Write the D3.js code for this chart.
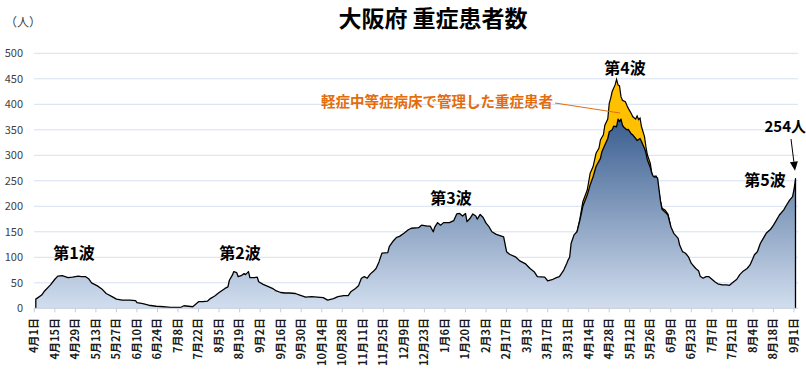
<!DOCTYPE html>
<html>
<head>
<meta charset="utf-8">
<script src="https://cdn.jsdelivr.net/npm/d3@7"></script>
<style>
	body { margin: 0; background: #fff; }
	text { font-family: "Noto Sans CJK JP", "Noto Sans", sans-serif; }
</style>
</head>
<body>
<svg id="chart" width="806" height="370"></svg>
<script>
// data: day offset from 2020-04-01
const startDate = new Date(2020, 3, 1);
const lastDay = 518; // 2021-09-01
const yTicks = [0, 50, 100, 150, 200, 250, 300, 350, 400, 450, 500];

// severe patients (ICU beds)
const severe = [
	[0, 18], [1, 20], [4, 26], [6, 34], [10, 46], [13, 57], [15, 63], [18, 64], [20, 62], [22, 60],
	[25, 61], [27, 62], [29, 63], [31, 62], [34, 62], [36, 58], [38, 50], [42, 44], [45, 38], [48, 29],
	[52, 23], [55, 18], [59, 16], [64, 16], [68, 15], [69, 11], [73, 9], [77, 6], [82, 4], [87, 3],
	[92, 2], [99, 2], [101, 5], [104, 4], [107, 3], [111, 13], [114, 13], [117, 14], [119, 19], [122, 24],
	[125, 31], [129, 39], [131, 42], [132, 55], [134, 65], [135, 72], [137, 70], [138, 62], [140, 64], [142, 68],
	[143, 66], [145, 72], [146, 60], [149, 60], [151, 61], [152, 52], [155, 47], [159, 42], [162, 38], [164, 34],
	[167, 31], [170, 30], [173, 30], [177, 29], [180, 26], [184, 22], [188, 23], [192, 22], [196, 21], [199, 16],
	[203, 19], [206, 23], [210, 25], [213, 25], [215, 33], [218, 39], [220, 44], [222, 59], [224, 62], [226, 59],
	[228, 67], [230, 72], [232, 78], [234, 91], [236, 108], [240, 109], [241, 121], [244, 133], [246, 139], [248, 141],
	[251, 147], [254, 154], [256, 157], [261, 158], [263, 163], [267, 161], [269, 161], [271, 150], [272, 159], [274, 168],
	[276, 163], [278, 168], [282, 168], [285, 172], [287, 185], [289, 186], [291, 181], [293, 186], [294, 170], [296, 176],
	[298, 185], [300, 181], [301, 175], [303, 184], [305, 178], [307, 167], [309, 160], [311, 150], [314, 145], [319, 140],
	[321, 111], [323, 106], [327, 101], [330, 93], [334, 87], [337, 78], [340, 71], [342, 62], [347, 61], [349, 54],
	[352, 56], [355, 60], [357, 62], [360, 75], [362, 88], [363, 95], [364, 100], [365, 127], [367, 144], [369, 150],
	[371, 173], [373, 200], [376, 222], [378, 242], [380, 258], [382, 278], [385, 294], [386, 307], [388, 320], [390, 333],
	[391, 346], [393, 350], [394, 357], [396, 356], [397, 371], [398, 366], [399, 371], [400, 359], [401, 355], [403, 350],
	[404, 351], [406, 342], [407, 340], [409, 333], [410, 329], [412, 333], [413, 327], [415, 314], [416, 305], [417, 291],
	[419, 276], [420, 265], [421, 259], [422, 257], [423, 258], [424, 255], [425, 232], [426, 209], [427, 194], [429, 189],
	[431, 183], [433, 160], [435, 147], [438, 137], [439, 124], [441, 111], [443, 108], [445, 101], [447, 88], [450, 78],
	[452, 73], [453, 63], [455, 59], [457, 62], [459, 62], [461, 57], [463, 52], [465, 48], [468, 46], [471, 46],
	[473, 45], [475, 50], [478, 57], [480, 66], [482, 72], [485, 78], [487, 85], [489, 98], [490, 105], [492, 111],
	[494, 127], [496, 137], [498, 147], [501, 155], [503, 163], [505, 173], [507, 183], [510, 193], [512, 203], [514, 212],
	[516, 219], [517, 233], [518, 254]
];

// severe incl. those managed in mild/moderate beds (only differs in wave 4)
const severeTotal = [
	[369, 150], [371, 175], [373, 209], [376, 232], [378, 265], [380, 278], [382, 304], [384, 314], [385, 330], [387, 340],
	[388, 359], [390, 371], [391, 402], [392, 412], [393, 425], [395, 438], [396, 449], [397, 438], [398, 436], [399, 415],
	[400, 408], [402, 405], [403, 398], [404, 392], [406, 382], [407, 376], [409, 371], [410, 377], [411, 370], [412, 373],
	[413, 356], [415, 337], [416, 317], [417, 301], [419, 284], [420, 265], [421, 255], [422, 259], [423, 259], [424, 242],
	[426, 209], [427, 196], [429, 193], [431, 185], [433, 160]
];

const waveNames = ["第1波", "第2波", "第3波", "第4波", "第5波"];
const lastValue = 254;

const svg = d3.select("#chart");

const x = d3.scaleLinear().domain([0, lastDay]).range([35.8, 795.5]);
const y = d3.scaleLinear().domain([0, 500]).range([308.3, 53.3]);

//gridlines
svg.append("g")
	.selectAll("line")
	.data(yTicks.filter((d) => d > 0))
	.enter()
	.append("line")
	.attr("x1", 34)
	.attr("x2", 798)
	.attr("y1", (d) => y(d))
	.attr("y2", (d) => y(d))
	.attr("stroke", "#d5e0ef")
	.attr("stroke-width", 1);

//y labels
svg.append("g")
	.selectAll("text")
	.data(yTicks)
	.enter()
	.append("text")
	.attr("x", 23)
	.attr("y", (d) => y(d))
	.attr("dy", "0.35em")
	.attr("text-anchor", "end")
	.attr("font-size", 11)
	.attr("fill", "#404040")
	.text((d) => d);

svg.append("text")
	.attr("x", 5)
	.attr("y", 27)
	.attr("font-size", 12)
	.attr("fill", "#404040")
	.text("（人）");

//gradient for the blue area
const grad = svg.append("defs")
	.append("linearGradient")
	.attr("id", "blueGrad")
	.attr("gradientUnits", "userSpaceOnUse")
	.attr("x1", 0).attr("x2", 0)
	.attr("y1", y(371)).attr("y2", y(0));
grad.append("stop").attr("offset", "0%").attr("stop-color", "#3a5e8f");
grad.append("stop").attr("offset", "100%").attr("stop-color", "#d2deef");

const area = d3.area()
	.x((d) => x(d[0]))
	.y0(y(0))
	.y1((d) => y(d[1]));

const outline = (pts, closeEnds) => {
	const p = closeEnds ? [[pts[0][0], 0], ...pts, [pts[pts.length - 1][0], 0]] : pts;
	return d3.line().x((d) => x(d[0])).y((d) => y(d[1]))(p);
};

//orange (total) underneath
svg.append("path")
	.attr("d", area(severeTotal))
	.attr("fill", "#ffc000");
svg.append("path")
	.attr("d", outline(severeTotal, false))
	.attr("fill", "none")
	.attr("stroke", "#000")
	.attr("stroke-width", 1.2);

//blue area on top
svg.append("path")
	.attr("d", area(severe))
	.attr("fill", "url(#blueGrad)");
svg.append("path")
	.attr("d", outline(severe, true))
	.attr("fill", "none")
	.attr("stroke", "#000")
	.attr("stroke-width", 1.3)
	.attr("stroke-linejoin", "round");

//x axis
svg.append("line")
	.attr("x1", 34).attr("x2", 798)
	.attr("y1", y(0)).attr("y2", y(0))
	.attr("stroke", "#c4cedb");

const tickDays = d3.range(0, lastDay + 1, 14);
const fmt = (d) => {
	const dt = d3.timeDay.offset(startDate, d);
	return (dt.getMonth() + 1) + "月" + dt.getDate() + "日";
};

const xt = svg.append("g")
	.selectAll("g")
	.data(tickDays)
	.enter()
	.append("g")
	.attr("transform", (d) => "translate(" + (x(d) - 1.5) + ",0)");
xt.append("line")
	.attr("y1", y(0)).attr("y2", y(0) + 4)
	.attr("stroke", "#c4cedb");
xt.append("text")
	.attr("transform", "translate(0,318) rotate(-90)")
	.attr("dy", "0.35em")
	.attr("text-anchor", "end")
	.attr("font-size", 11)
	.attr("font-weight", "bold")
	.attr("fill", "#1a1a1a")
	.text(fmt);

//title
svg.append("text")
	.attr("x", 433)
	.attr("y", 27)
	.attr("text-anchor", "middle")
	.attr("font-size", 23)
	.attr("font-weight", "bold")
	.attr("fill", "#000")
	.text("大阪府 重症患者数");

//wave labels
const wavePos = [[74, 259], [240, 259], [451, 204], [625, 74], [765, 186]];
svg.append("g")
	.selectAll("text")
	.data(waveNames)
	.enter()
	.append("text")
	.attr("x", (d, i) => wavePos[i][0])
	.attr("y", (d, i) => wavePos[i][1])
	.attr("text-anchor", "middle")
	.attr("font-size", 16)
	.attr("font-weight", "bold")
	.attr("fill", "#000")
	.text((d) => d);

//orange callout
svg.append("line")
	.attr("x1", 555).attr("y1", 103)
	.attr("x2", 620).attr("y2", 113)
	.attr("stroke", "#e46c0a")
	.attr("stroke-width", 1);
svg.append("text")
	.attr("x", 553)
	.attr("y", 107)
	.attr("text-anchor", "end")
	.attr("font-size", 14.5)
	.attr("font-weight", "bold")
	.attr("fill", "#e46c0a")
	.text("軽症中等症病床で管理した重症患者");

//last value arrow
svg.append("text")
	.attr("x", 806)
	.attr("y", 132)
	.attr("text-anchor", "end")
	.attr("font-size", 15)
	.attr("font-weight", "bold")
	.attr("fill", "#000")
	.text(lastValue + "人");

const ax0 = 791, ay0 = 139, ax1 = x(lastDay) - 0.5, ay1 = y(lastValue) - 8;
const ang = Math.atan2(ay1 - ay0, ax1 - ax0);
const hl = 9, hw = 4;
const bx = ax1 - hl * Math.cos(ang), by = ay1 - hl * Math.sin(ang);
svg.append("line")
	.attr("x1", ax0).attr("y1", ay0)
	.attr("x2", bx).attr("y2", by)
	.attr("stroke", "#000")
	.attr("stroke-width", 1);
svg.append("path")
	.attr("d", "M" + ax1 + "," + ay1 +
		"L" + (bx + hw * Math.sin(ang)) + "," + (by - hw * Math.cos(ang)) +
		"L" + (bx - hw * Math.sin(ang)) + "," + (by + hw * Math.cos(ang)) + "Z")
	.attr("fill", "#000");
</script>
</body>
</html>
